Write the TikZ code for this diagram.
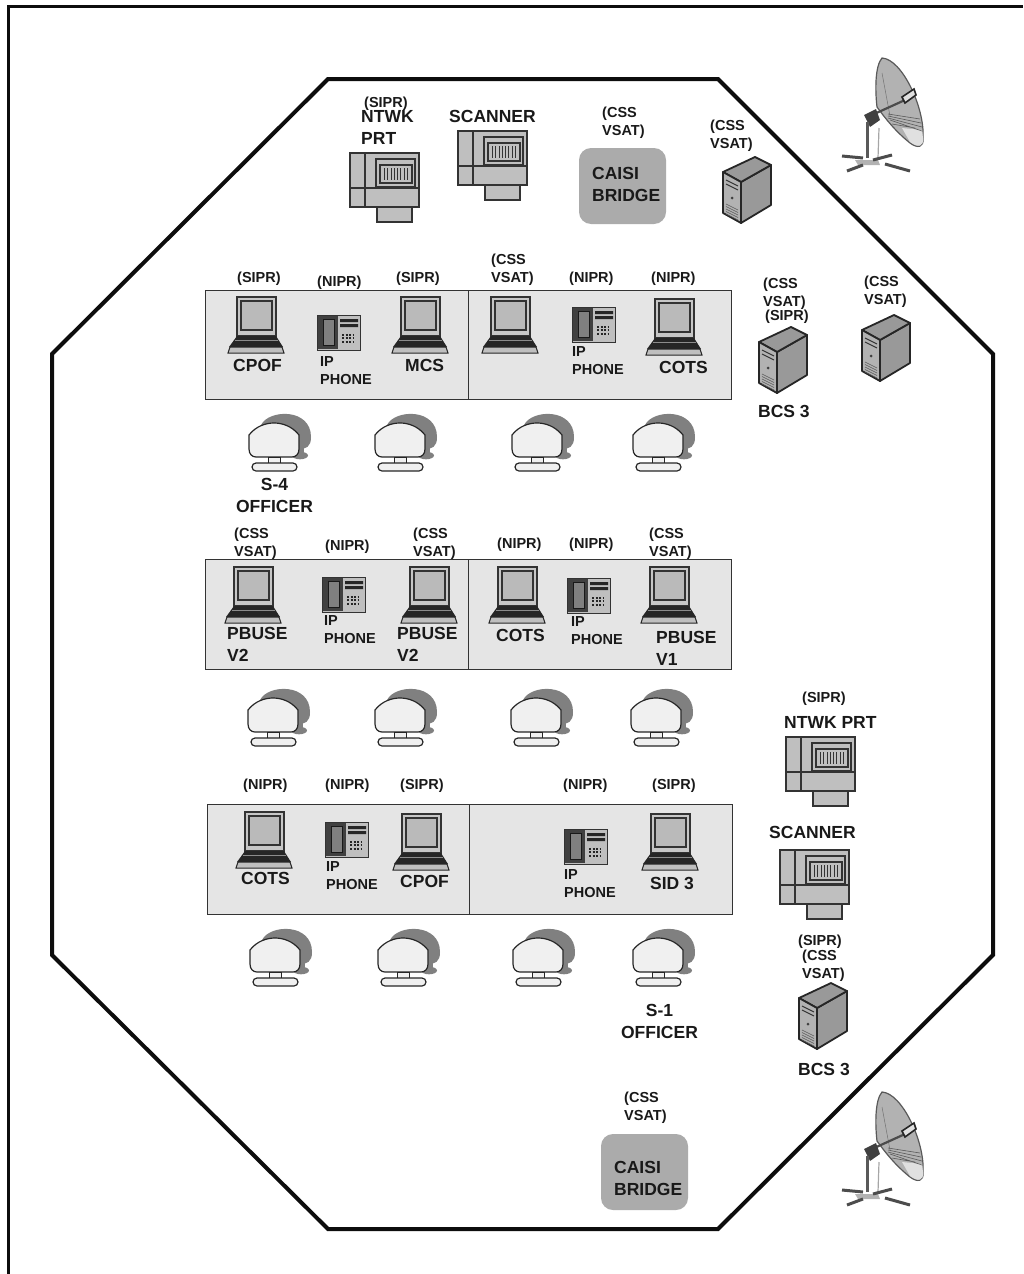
\documentclass[tikz,border=0pt]{standalone}
\usepackage{fontspec}
\setmainfont{Liberation Sans}
\begin{document}
\begin{tikzpicture}[
        x=1pt, y=-1pt,
        every node/.style={anchor=north west, inner sep=0pt, align=left, text=black!90},
        tagtext/.style={font=\fontsize{14.5}{18}\selectfont\bfseries},
        nametext/.style={font=\fontsize{17.5}{22}\selectfont\bfseries},
        centered/.style={anchor=north, align=center},
        panel/.style={draw=black!80, line width=1pt, fill=black!10},
        bridgebox/.style={anchor=center, fill=black!33, rounded corners=12pt, minimum width=87pt, minimum height=76pt},
        laptop/.pic={
            \filldraw[fill=black!22, draw=black!80, line width=1.2pt] (-19,0) rectangle (20,39);
            \filldraw[fill=black!27, draw=black!80, line width=1.2pt] (-15,4) rectangle (16,33);
            \fill[black!85] (-19,39) -- (20,39) -- (27,50) -- (-27,50) -- cycle;
            \draw[black!45, line width=.6pt] (-21,43) -- (22,43);
            \filldraw[fill=black!25, draw=black!85, line width=1pt] (-26,50) -- (26,50) -- (28,56) -- (-28,56) -- cycle;
            \fill[black!85] (-10,47) rectangle (10,50);
        },
        phone/.pic={
            \filldraw[fill=black!25, draw=black!80, line width=1pt] (0,0) rectangle (43,35);
            \fill[black!75] (1,1) rectangle (21,34);
            \filldraw[fill=black!50, draw=black!90, line width=.5pt] (6,4) -- (17,4) -- (17,30) -- (6,30) -- cycle;
            \fill[black!85] (23,4) rectangle (41,7) (23,9) rectangle (41,12);
            \draw[black!85, line width=2pt, dash pattern=on 2pt off 1.5pt] (25,19.5) -- (37,19.5) (25,23) -- (37,23) (25,26.5) -- (37,26.5);
        },
        workstation/.pic={
            \fill[black!50] (-13,2) .. controls (-5,-14) and (37,-15) .. (37,14) .. controls (37,24) and (32,26) .. (25,26) -- (20,10) -- cycle;
            \fill[black!50] (26,32.5) ellipse [x radius=8, y radius=3.8];
            \fill[black!50] (25,22) rectangle (30,32);
            \filldraw[fill=black!6, draw=black!85, line width=1.2pt] (-25,12) .. controls (-18,3) and (-8,0) .. (0,0) .. controls (8,0) and (18,3) .. (25,12) -- (25,26) .. controls (25,31) and (22,34) .. (18,34) -- (-18,34) .. controls (-22,34) and (-25,31) .. (-25,26) -- cycle;
            \filldraw[fill=black!6, draw=black!85, line width=1pt] (-6,34) rectangle (6,40);
            \filldraw[fill=black!6, draw=black!85, line width=1.2pt, rounded corners=4pt] (-22,40) rectangle (23,48);
        },
        printer/.pic={
            \begin{scope}[fill=black!25, draw=black!80, line width=1.1pt]
                \filldraw (27,54) rectangle (62,69);
                \filldraw (0,0) rectangle (69,54);
                \draw (15,0) -- (15,54) (0,35) -- (69,35);
                \filldraw (26,6) rectangle (65,34);
                \filldraw (30,12) rectangle (62,30);
                \draw[line width=1pt] (34,15) -- (34,27) (37,15) -- (37,27) (41,15) -- (41,27) (44,15) -- (44,27) (47,15) -- (47,27) (50,15) -- (50,27) (54,15) -- (54,27) (57,15) -- (57,27);
            \end{scope}
        },
        server/.pic={
            \begin{scope}[draw=black!85, line width=1.8pt, line join=round]
                \filldraw[fill=black!40] (18,25) -- (48,8) -- (48,48) -- (18,66) -- cycle;
                \filldraw[fill=black!40] (0,15) -- (32,0) -- (48,8) -- (18,25) -- cycle;
                \filldraw[fill=black!30] (0,15) -- (18,25) -- (18,66) -- (0,56) -- cycle;
            \end{scope}
            \draw[black!80, line width=1pt] (3,23) -- (15,29) (3,27) -- (15,33);
            \fill[black!75] (9,41) circle (1.5);
            \draw[black!65, line width=.6pt] (3,47) -- (15,53) (3,49.5) -- (15,55.5) (3,52) -- (15,58) (3,54.5) -- (15,60.5) (3,57) -- (15,63);
        },
        dish/.pic={
            \filldraw[fill=black!30, draw=black!65, line width=1.2pt] (52,18) .. controls (72,19) and (95,68) .. (93,98) .. controls (94,107) and (88,109) .. (80,103) .. controls (70,95) and (60,85) .. (47,67) .. controls (45,50) and (45,26) .. (52,18) -- cycle;
            \fill[black!12] (72,88) -- (92,90) -- (93,98) .. controls (94,107) and (88,108) .. (80,102) -- cycle;
            \draw[black!55, line width=.5pt] (52,33) -- (60,76);
            \draw[black!65, line width=.6pt] (58,74) -- (90,79) (58,76) -- (91,83) (58,78) -- (92,87) (60,80) -- (92,91) (62,84) -- (85,88);
            \draw[black!70, line width=2.2pt] (42,75) -- (75,60);
            \filldraw[fill=black!12, draw=black!85, line width=1.6pt] (72,57) -- (84,49) -- (86,55) -- (75,63) -- cycle;
            \fill[black!75] (34,75) -- (46,69) -- (50,80) -- (40,87) -- cycle;
            \draw[black!65, line width=3pt] (37,82) -- (37,118);
            \draw[black!35, line width=1.2pt] (49,88) -- (48,118);
            \fill[black!30] (25,120) -- (48,120) -- (50,125) -- (28,125) -- cycle;
            \draw[black!70, line width=3pt] (12,116) -- (33,118) (62,115) -- (43,120) (17,131) -- (33,125) (55,124) -- (80,131);
        }
    ]
        \useasboundingbox (0,0) rectangle (1023,1274);
        \draw[line width=3pt, black!95] (8.5,1274) -- (8.5,6) -- (1023,6);
        \draw[line width=4pt, black!95] (328,79) -- (718,79) -- (993,354) -- (993,955) -- (718,1229) -- (328,1229) -- (52,955) -- (52,354) -- cycle;

        \draw[panel] (205,290) rectangle (468,399);
        \draw[panel] (468,290) rectangle (731,399);
        \draw[panel] (205,559) rectangle (468,669);
        \draw[panel] (468,559) rectangle (731,669);
        \draw[panel] (207,804) rectangle (469,914);
        \draw[panel] (469,804) rectangle (732,914);

        \pic (dishA) at (830,40) {dish};
        \pic (dishB) at (830,1074) {dish};

        \pic (prtA) at (350,153) {printer};
        \pic (scanA) at (458,131) {printer};
        \pic (prtB) at (786,737) {printer};
        \pic (scanB) at (780,850) {printer};

        \pic (srvA) at (723,157) {server};
        \pic (srvB) at (759,327) {server};
        \pic (srvC) at (862,315) {server};
        \pic (srvD) at (799,983) {server};

        \pic (lapA) at (256,297) {laptop};
        \pic (lapB) at (420,297) {laptop};
        \pic (lapC) at (510,297) {laptop};
        \pic (lapD) at (674,299) {laptop};
        \pic (lapE) at (253,567) {laptop};
        \pic (lapF) at (429,567) {laptop};
        \pic (lapG) at (517,567) {laptop};
        \pic (lapH) at (669,567) {laptop};
        \pic (lapI) at (264,812) {laptop};
        \pic (lapJ) at (421,814) {laptop};
        \pic (lapK) at (670,814) {laptop};

        \pic (telA) at (317,315) {phone};
        \pic (telB) at (572,307) {phone};
        \pic (telC) at (322,577) {phone};
        \pic (telD) at (567,578) {phone};
        \pic (telE) at (325,822) {phone};
        \pic (telF) at (564,829) {phone};

        \pic (wsA) at (274,423) {workstation};
        \pic (wsB) at (400,423) {workstation};
        \pic (wsC) at (537,423) {workstation};
        \pic (wsD) at (658,423) {workstation};
        \pic (wsE) at (273,698) {workstation};
        \pic (wsF) at (400,698) {workstation};
        \pic (wsG) at (536,698) {workstation};
        \pic (wsH) at (656,698) {workstation};
        \pic (wsI) at (275,938) {workstation};
        \pic (wsJ) at (403,938) {workstation};
        \pic (wsK) at (538,938) {workstation};
        \pic (wsL) at (658,938) {workstation};

        \node[bridgebox] (bridgeA) at (622.5,186) {};
        \node[bridgebox] (bridgeB) at (644.5,1172) {};
        \node[nametext] (bridgeAname) at (592,167) {CAISI\\BRIDGE};
        \node[nametext] (bridgeBname) at (614,1161) {CAISI\\BRIDGE};

        \node[tagtext] (tagPrtA) at (364,97) {(SIPR)};
        \node[nametext] (namePrtA) at (361,110) {NTWK\\PRT};
        \node[nametext] (nameScanA) at (449,110) {SCANNER};
        \node[tagtext] (tagBridgeA) at (602,107) {(CSS\\VSAT)};
        \node[tagtext] (tagSrvA) at (710,120) {(CSS\\VSAT)};

        \node[tagtext] (tagLapA) at (237,272) {(SIPR)};
        \node[tagtext] (tagTelA) at (317,276) {(NIPR)};
        \node[tagtext] (tagLapB) at (396,272) {(SIPR)};
        \node[tagtext] (tagLapC) at (491,254) {(CSS\\VSAT)};
        \node[tagtext] (tagTelB) at (569,272) {(NIPR)};
        \node[tagtext] (tagLapD) at (651,272) {(NIPR)};
        \node[tagtext] (tagSrvB) at (763,278) {(CSS\\VSAT)};
        \node[tagtext] (tagSrvBb) at (765,310) {(SIPR)};
        \node[tagtext] (tagSrvC) at (864,276) {(CSS\\VSAT)};
        \node[nametext] (nameLapA) at (233,359) {CPOF};
        \node[tagtext] (nameTelA) at (320,356) {IP\\PHONE};
        \node[nametext] (nameLapB) at (405,359) {MCS};
        \node[tagtext] (nameTelB) at (572,346) {IP\\PHONE};
        \node[nametext] (nameLapD) at (659,361) {COTS};
        \node[nametext] (nameSrvB) at (758,405) {BCS 3};
        \node[nametext, centered] (nameWsA) at (274.5,478) {S-4\\OFFICER};

        \node[tagtext] (tagLapE) at (234,528) {(CSS\\VSAT)};
        \node[tagtext] (tagTelC) at (325,540) {(NIPR)};
        \node[tagtext] (tagLapF) at (413,528) {(CSS\\VSAT)};
        \node[tagtext] (tagLapG) at (497,538) {(NIPR)};
        \node[tagtext] (tagTelD) at (569,538) {(NIPR)};
        \node[tagtext] (tagLapH) at (649,528) {(CSS\\VSAT)};
        \node[nametext] (nameLapE) at (227,627) {PBUSE\\V2};
        \node[tagtext] (nameTelC) at (324,615) {IP\\PHONE};
        \node[nametext] (nameLapF) at (397,627) {PBUSE\\V2};
        \node[nametext] (nameLapG) at (496,629) {COTS};
        \node[tagtext] (nameTelD) at (571,616) {IP\\PHONE};
        \node[nametext] (nameLapH) at (656,631) {PBUSE\\V1};

        \node[tagtext] (tagLapI) at (243,779) {(NIPR)};
        \node[tagtext] (tagTelE) at (325,779) {(NIPR)};
        \node[tagtext] (tagLapJ) at (400,779) {(SIPR)};
        \node[tagtext] (tagTelF) at (563,779) {(NIPR)};
        \node[tagtext] (tagLapK) at (652,779) {(SIPR)};
        \node[nametext] (nameLapI) at (241,872) {COTS};
        \node[tagtext] (nameTelE) at (326,861) {IP\\PHONE};
        \node[nametext] (nameLapJ) at (400,875) {CPOF};
        \node[tagtext] (nameTelF) at (564,869) {IP\\PHONE};
        \node[nametext] (nameLapK) at (650,877) {SID 3};
        \node[nametext, centered] (nameWsL) at (659.5,1004) {S-1\\OFFICER};

        \node[tagtext] (tagPrtB) at (802,692) {(SIPR)};
        \node[nametext] (namePrtB) at (784,716) {NTWK PRT};
        \node[nametext] (nameScanB) at (769,826) {SCANNER};
        \node[tagtext] (tagSrvD) at (798,935) {(SIPR)};
        \node[tagtext] (tagSrvDb) at (802,950) {(CSS\\ VSAT)};
        \node[nametext] (nameSrvD) at (798,1063) {BCS 3};
        \node[tagtext] (tagBridgeB) at (624,1092) {(CSS\\VSAT)};
    \end{tikzpicture}
\end{document}
